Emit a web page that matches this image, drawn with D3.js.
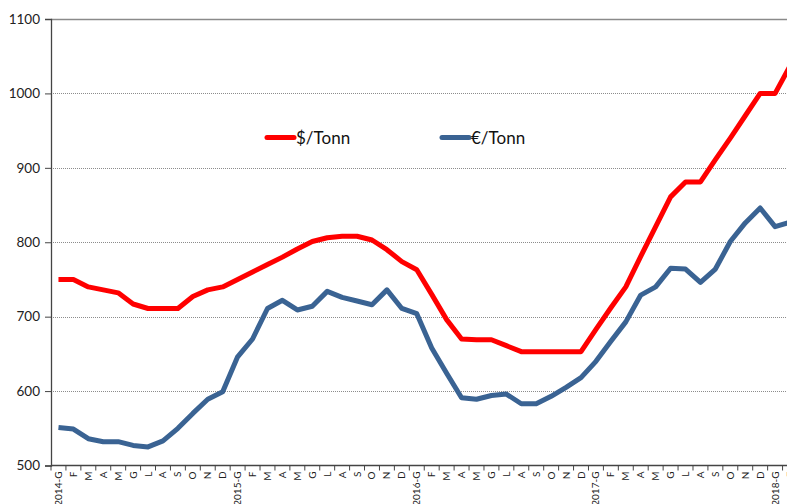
<!DOCTYPE html>
<html>
<head>
<meta charset="utf-8">
<script src="https://cdn.jsdelivr.net/npm/d3@7"></script>
<style>
  body { margin: 0; background: #fff; }
  svg { display: block; font-family: 'Lato', 'DejaVu Sans', sans-serif; }
</style>
</head>
<body>
<svg id="chart" width="787" height="504"></svg>
<script>
const years = ['2014', '2015', '2016', '2017', '2018']
const monthNames = ['G', 'F', 'M', 'A', 'M', 'G', 'L', 'A', 'S', 'O', 'N', 'D']

// one label per month, the first month of a year carries the year
const months = []
years.forEach(y => {
  monthNames.forEach((m, i) => {
    if (y === '2018' && i > 1) return
    months.push(i === 0 ? `${y}-${m}` : m)
  })
})

const usdTonn = [
  750, 750, 740, 736, 732, 717, 711, 711, 711, 727, 736, 740,
  750, 760, 770, 780, 791, 801, 806, 808, 808, 803, 790, 774,
  763, 730, 696, 670, 669, 669, 661, 653, 653, 653, 653, 653,
  683, 712, 740, 781, 821, 861, 881, 881, 911, 940, 970, 1000,
  1000, 1037
]

const eurTonn = [
  551, 549, 536, 532, 532, 527, 525, 533, 550, 570, 589, 599,
  646, 670, 711, 722, 709, 714, 734, 726, 721, 716, 736, 711,
  704, 658, 624, 591, 589, 594, 596, 583, 583, 593, 605, 618,
  640, 667, 693, 729, 740, 765, 764, 746, 764, 801, 826, 846,
  821, 827
]

const yTicks = [500, 600, 700, 800, 900, 1000, 1100]

const series = [
  { name: '$/Tonn', values: usdTonn, color: '#ff0000' },
  { name: '€/Tonn', values: eurTonn, color: '#3a6393' }
]

const margin = { top: 19, left: 51 }
const step = 14.93
const plotBottom = 465.5

const svg = d3.select('#chart')

const keys = months.map((m, i) => i)

const xScale = d3.scaleBand()
  .domain(keys)
  .range([margin.left, margin.left + step * keys.length])
  .padding(0)

const yScale = d3.scaleLinear()
  .domain([500, 1100])
  .range([plotBottom, margin.top])

const xMid = i => xScale(i) + xScale.bandwidth() / 2

// gridlines
svg.append('g')
  .selectAll('line')
  .data(yTicks.filter(t => t > 500 && t < 1100))
  .enter()
  .append('line')
  .attr('x1', margin.left)
  .attr('x2', 787)
  .attr('y1', d => Math.round(yScale(d)) + 0.5)
  .attr('y2', d => Math.round(yScale(d)) + 0.5)
  .attr('stroke', '#8c8c8c')
  .attr('stroke-width', 1)
  .attr('stroke-dasharray', '1,1')

// top border
svg.append('line')
  .attr('x1', margin.left)
  .attr('x2', 787)
  .attr('y1', Math.round(yScale(1100)) + 0.5)
  .attr('y2', Math.round(yScale(1100)) + 0.5)
  .attr('stroke', '#8a8a8a')
  .attr('stroke-width', 1.5)

// y axis
const leftAxis = d3.axisLeft(yScale)
  .tickValues(yTicks)
  .tickFormat(d3.format('d'))
  .tickSize(6)
  .tickPadding(5)

const yAxisG = svg.append('g')
  .attr('transform', `translate(${margin.left}, 0)`)
  .call(leftAxis)

yAxisG.select('.domain').attr('stroke', '#444').attr('stroke-width', 1.3)
yAxisG.selectAll('.tick line').attr('stroke', '#444')
yAxisG.selectAll('.tick text')
  .attr('font-size', 13.5)
  .attr('fill', '#222')
  .attr('font-family', "'Lato', 'DejaVu Sans', sans-serif")

// x axis
const xAxisG = svg.append('g')
  .attr('transform', `translate(0, ${plotBottom})`)

xAxisG.append('line')
  .attr('x1', margin.left)
  .attr('x2', 787)
  .attr('stroke', '#444')
  .attr('stroke-width', 1.3)

xAxisG.selectAll('.xtick')
  .data(keys.concat([keys.length]))
  .enter()
  .append('line')
  .attr('class', 'xtick')
  .attr('x1', d => (d < keys.length ? xScale(d) : xScale(d - 1) + xScale.bandwidth()))
  .attr('x2', d => (d < keys.length ? xScale(d) : xScale(d - 1) + xScale.bandwidth()))
  .attr('y1', 0)
  .attr('y2', 5)
  .attr('stroke', '#444')

xAxisG.selectAll('.xlabel')
  .data(keys)
  .enter()
  .append('text')
  .attr('class', 'xlabel')
  .attr('transform', d => `translate(${xMid(d) + 3.5}, 6) rotate(-90)`)
  .attr('text-anchor', 'end')
  .attr('font-size', 10)
  .attr('fill', '#222')
  .text(d => months[d])

// lines
const line = d3.line()
  .x((d, i) => xMid(i))
  .y(d => yScale(d))

svg.append('g')
  .selectAll('path')
  .data(series)
  .enter()
  .append('path')
  .attr('d', d => line(d.values))
  .attr('fill', 'none')
  .attr('stroke', d => d.color)
  .attr('stroke-width', 5)
  .attr('stroke-linejoin', 'round')

// legend
const legend = svg.append('g')
  .selectAll('g')
  .data(series)
  .enter()
  .append('g')
  .attr('transform', (d, i) => `translate(${i === 0 ? 267 : 442}, 137.5)`)

legend.append('line')
  .attr('x1', 0)
  .attr('x2', 27)
  .attr('stroke', d => d.color)
  .attr('stroke-width', 5)
  .attr('stroke-linecap', 'round')

legend.append('text')
  .attr('x', 29)
  .attr('y', 6)
  .attr('font-size', 17)
  .attr('fill', '#111')
  .text(d => d.name)
</script>
</body>
</html>
